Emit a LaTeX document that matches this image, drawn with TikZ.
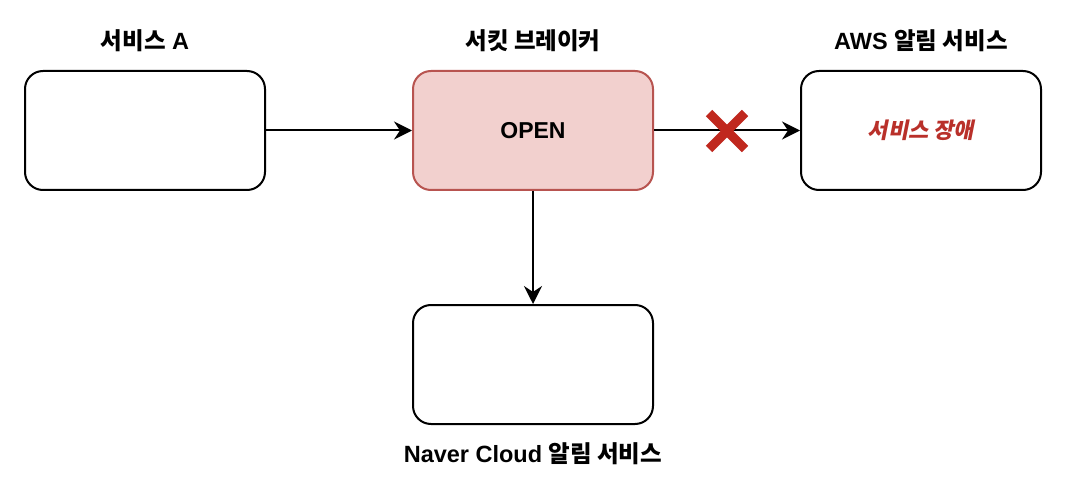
\documentclass[tikz,border=0pt]{standalone}
\usepackage{fontspec}
\setmainfont{Liberation Sans}
\newfontfamily\kr{Noto Sans CJK KR}
\newfontfamily\krit{Noto Sans CJK KR}[FakeSlant=0.2]
\usetikzlibrary{arrows.meta}
\definecolor{redfill}{HTML}{F2D0CE}
\definecolor{redline}{HTML}{B85450}
\definecolor{xred}{HTML}{C0281E}
\definecolor{txtred}{HTML}{B9302A}
\begin{document}
\begin{tikzpicture}[x=1pt,y=-1pt,
  box/.style={draw=black,line width=2pt,rounded corners=18pt,minimum width=240pt,minimum height=119pt,inner sep=0pt,fill=white},
  lbl/.style={font=\fontsize{23.5}{28}\selectfont\bfseries,inner sep=0pt},
  conn/.style={draw=black,line width=2pt,-{Stealth[length=18pt,width=18pt,inset=6pt]}}]
\fill[white] (0,0) rectangle (1066,492);
\useasboundingbox (0,0) rectangle (1066,492);
\node[box] (a) at (145,130.5) {};
\node[box,fill=redfill,draw=redline,font=\fontsize{23}{27}\selectfont\bfseries] (cb) at (533,130.5) {OPEN};
\node[box,font=\fontsize{22}{26}\selectfont\bfseries] (aws) at (921,130.5) {\krit\color{txtred}\bfseries 서비스 장애};
\node[box] (nv) at (533,364.5) {};
\node[lbl] (la) at (145,41) {{\kr\bfseries 서비스} A};
\node[lbl] (lcb) at (533,41) {\kr\bfseries 서킷 브레이커};
\node[lbl] (laws) at (921,41) {AWS {\kr\bfseries 알림 서비스}};
\node[lbl] (lnv) at (533,454) {Naver Cloud {\kr\bfseries 알림 서비스}};
\draw[conn] (a.east) -- (cb.west);
\draw[conn] (cb.east) -- (aws.west);
\draw[conn] (cb.south) -- (nv.north);
\coordinate (xc) at (727,131);
\draw[xred,line width=9pt] ([shift={(-18,-18)}]xc) -- ([shift={(18,18)}]xc);
\draw[xred,line width=9pt] ([shift={(18,-18)}]xc) -- ([shift={(-18,18)}]xc);
\end{tikzpicture}
\end{document}
